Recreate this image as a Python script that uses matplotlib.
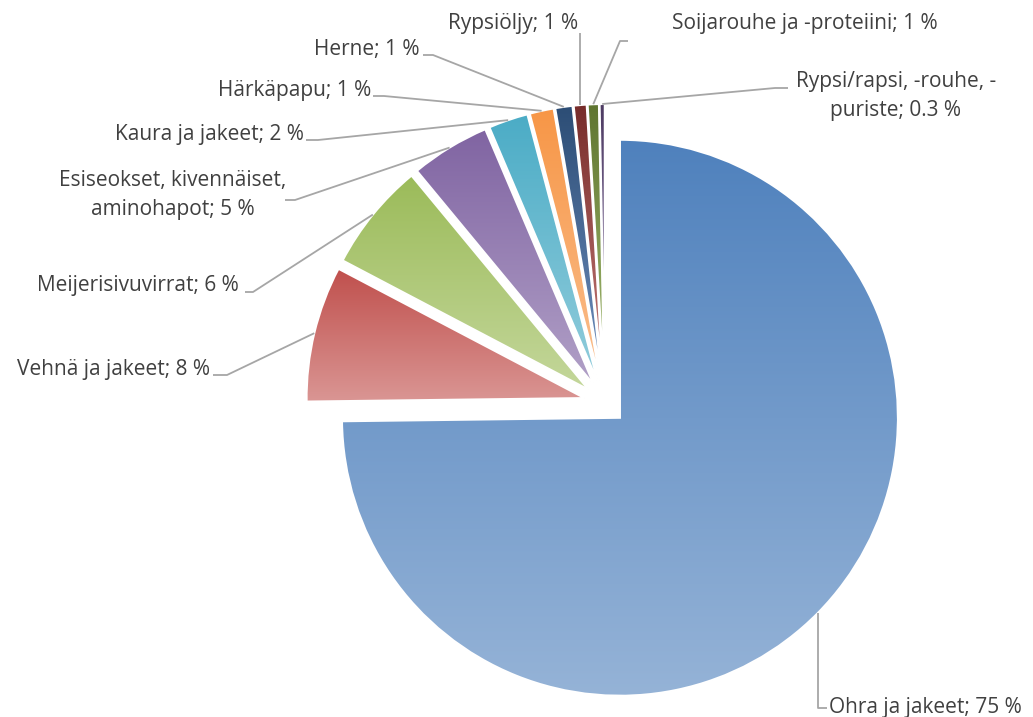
import numpy as np
import matplotlib
matplotlib.use("Agg")
import matplotlib.pyplot as plt
from matplotlib.colors import to_rgb

# ---- data ----
categories = [
    "Ohra ja jakeet", "Vehnä ja jakeet", "Meijerisivuvirrat",
    "Esiseokset, kivennäiset,\naminohapot", "Kaura ja jakeet", "Härkäpapu",
    "Herne", "Rypsiöljy", "Soijarouhe ja -proteiini", "Rypsi/rapsi, -rouhe, -\npuriste",
]
values = [74.8, 7.9, 6.3, 4.6, 2.3, 1.4, 1.0, 0.75, 0.65, 0.3]
pct_labels = ["75 %", "8 %", "6 %", "5 %", "2 %", "1 %", "1 %", "1 %", "1 %", "0.3 %"]

top_colors = ["#4F81BD", "#C0504D", "#9BBB59", "#8064A2", "#4BACC6", "#F79646",
              "#2C4D75", "#772C2A", "#5F7530", "#4D3B62"]
bottom_colors = ["#95B3D7", "#DA9694", "#C4D79B", "#B1A0C7", "#92CDDC", "#FABF8F",
                 "#6F8FBF", "#C77C7A", "#A5BD73", "#A593C0"]

# ---- layout (pixel coordinates, y measured from top) ----
W, H = 1033, 717
CX, CY, R, EXPL = 605, 403, 278, 21

# label text anchor (x, baseline y of last line, ha) and leader elbow points
label_pos = [
    (829, 713, "left"),
    (210, 375, "right"),
    (239, 291, "right"),
    (173, 215, "center"),
    (304, 140, "right"),
    (371, 96, "right"),
    (419, 55, "right"),
    (513, 29, "center"),
    (805, 29, "center"),
    (896, 116, "center"),
]
leader_pts = [
    [(817, 708), (827, 708)],
    [(227, 375), (213, 375)],
    [(253, 292), (245, 292)],
    [(295, 200), (285, 200)],
    [(318, 140), (306, 140)],
    [(384, 96), (373, 96)],
    [(433, 55), (423, 55)],
    [(581, 33)],
    [(620, 41), (628, 41)],
    [(775, 88), (788, 88)],
]

def Y(py):
    return H - py

fig = plt.figure(figsize=(W / 100, H / 100), dpi=100)
ax = fig.add_axes([0, 0, 1, 1])

wedges, _ = ax.pie(values, startangle=90, counterclock=False, radius=R,
                   center=(CX, Y(CY)), explode=[EXPL] * len(values),
                   wedgeprops=dict(edgecolor="white", linewidth=1.5))

for w, ct, cb in zip(wedges, top_colors, bottom_colors):
    ext = w.get_path().get_extents()
    t = np.linspace(0, 1, 256)[:, None]
    c1, c2 = np.array(to_rgb(ct)), np.array(to_rgb(cb))
    grad = (c1[None, :] * (1 - t) + c2[None, :] * t)[:, None, :]
    im = ax.imshow(grad, extent=[ext.x0, ext.x1, ext.y0, ext.y1], origin="upper",
                   aspect="auto", interpolation="bilinear", zorder=1)
    im.set_clip_path(w)
    w.set_facecolor("none")
    w.set_zorder(2)

# leader lines and labels
total = sum(values)
cum = 0.0
font = dict(family=["Open Sans", "DejaVu Sans"], size=15, color="#404040")
for i, (v, cat, pl) in enumerate(zip(values, categories, pct_labels)):
    mid = (cum + v / 2) / total * 360.0
    cum += v
    dx, dy = np.sin(np.radians(mid)), -np.cos(np.radians(mid))
    ex, ey = CX + (R + EXPL) * dx, CY + (R + EXPL) * dy
    pts = [(ex, ey)] + leader_pts[i]
    if i == 0:
        pts = [(ex, ey), (ex, leader_pts[0][0][1]), leader_pts[0][1]]
    if i == 7:
        pts = [(ex, ey), (ex, leader_pts[7][0][1])]
    xs = [p[0] for p in pts]
    ys = [Y(p[1]) for p in pts]
    ax.plot(xs, ys, color="#A6A6A6", lw=1.3, zorder=3, solid_capstyle="butt")
    lx, ly, ha = label_pos[i]
    ax.text(lx, Y(ly), f"{cat}; {pl}", ha=ha, va="baseline", multialignment="center",
            linespacing=1.48, **font)

ax.set_xlim(0, W)
ax.set_ylim(0, H)
ax.set_aspect("equal")
ax.axis("off")
fig.savefig("out.png", dpi=100, facecolor="white")
